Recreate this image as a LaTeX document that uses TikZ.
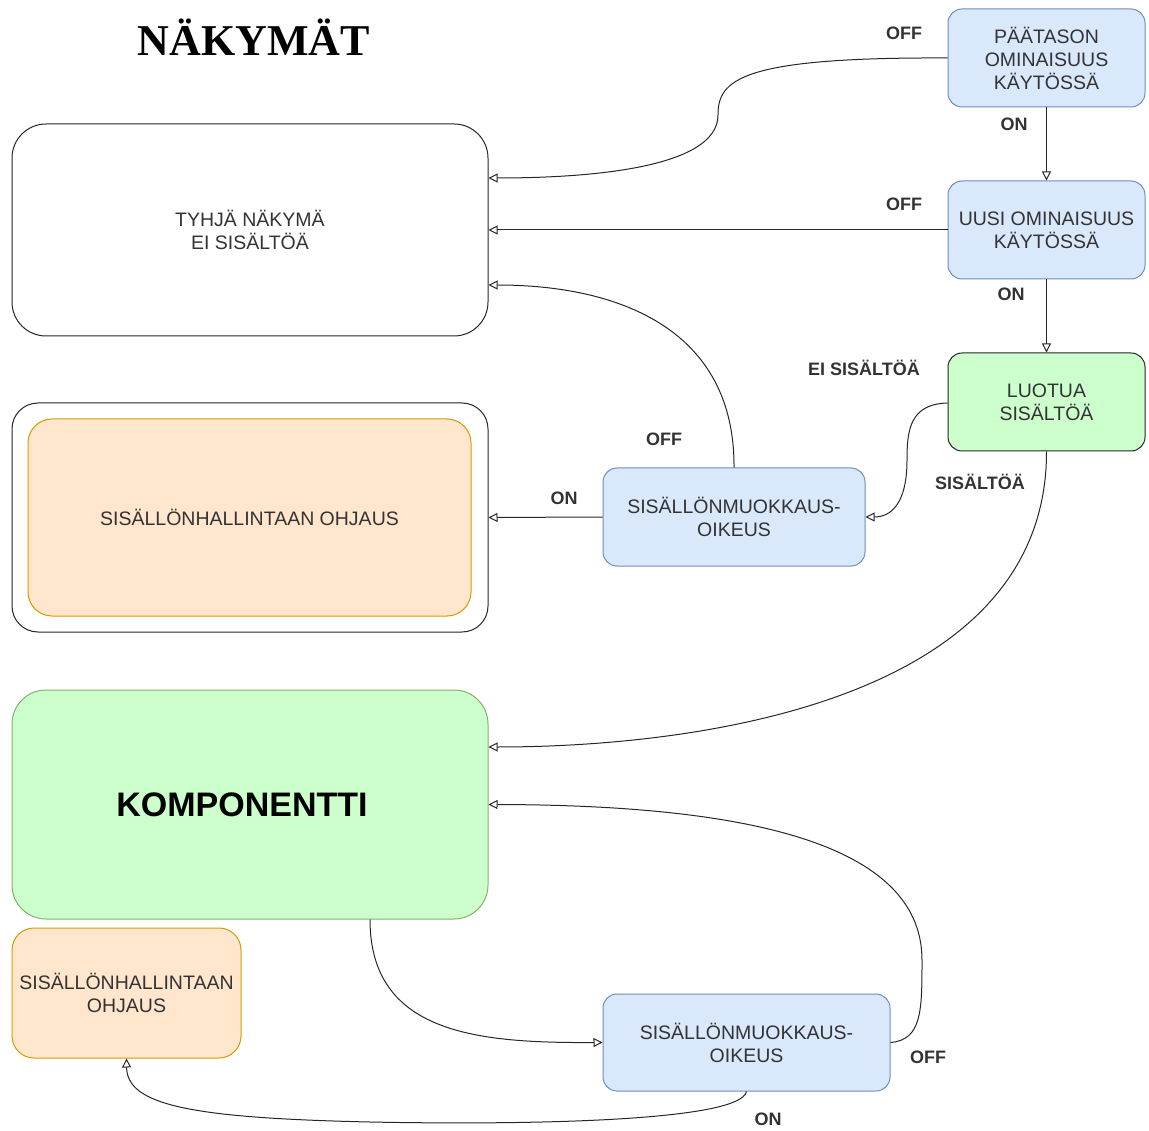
\documentclass[tikz,border=0pt]{standalone}
\usepackage{fontspec}
\setmainfont{Liberation Sans}
\newfontfamily\titlefont{Liberation Serif}
\usetikzlibrary{arrows.meta}
\definecolor{txt}{HTML}{333333}
\definecolor{bfill}{HTML}{DAE8FC}
\definecolor{bdraw}{HTML}{6C8EBF}
\definecolor{gfill}{HTML}{CCFFCC}
\definecolor{gdraw}{HTML}{82B366}
\definecolor{ofill}{HTML}{FFE6CC}
\definecolor{odraw}{HTML}{D79B00}
\tikzset{
  boxbase/.style={rectangle, inner sep=0pt, align=center, text=txt, line width=1pt,
    font=\fontsize{19.5}{23}\selectfont},
  bluebox/.style={boxbase, draw=bdraw, fill=bfill, rounded corners=14pt},
  greenbox/.style={boxbase, draw=black!85, fill=gfill, rounded corners=14pt},
  lbl/.style={font=\bfseries\fontsize{18}{20}\selectfont, text=txt, inner sep=0pt},
  conn/.style={line width=1pt, draw=black!85, -{Triangle[open,length=9pt,width=9pt]}},
}
\begin{document}
\begin{tikzpicture}[x=1pt,y=-1pt]
\useasboundingbox (0,0) rectangle (1149,1131);
\node[font=\titlefont\bfseries\fontsize{44}{48}\selectfont, inner sep=0pt] (title) at (254,37) {NÄKYMÄT};
% right column
\node[bluebox, minimum width=197pt, minimum height=98pt] (pt) at (1046.5,58) {PÄÄTASON\\OMINAISUUS\\KÄYTÖSSÄ};
\node[bluebox, minimum width=197pt, minimum height=98pt] (uo) at (1046.5,230) {UUSI OMINAISUUS\\KÄYTÖSSÄ};
\node[greenbox, minimum width=197pt, minimum height=98pt] (ls) at (1046.5,402) {LUOTUA\\SISÄLTÖÄ};
% left column
\node[boxbase, draw=black!85, fill=white, rounded corners=34pt, minimum width=476pt, minimum height=212pt] (ty) at (250,230) {TYHJÄ NÄKYMÄ\\EI SISÄLTÖÄ};
\node[boxbase, draw=black!85, fill=white, rounded corners=26pt, minimum width=476pt, minimum height=229pt] (outer) at (250,517.5) {};
\node[boxbase, draw=odraw, fill=ofill, rounded corners=24pt, minimum width=443pt, minimum height=197pt] (sh1) at (249.5,517.5) {SISÄLLÖNHALLINTAAN OHJAUS};
\node[bluebox, minimum width=262pt, minimum height=98pt] (sm1) at (734,517) {SISÄLLÖNMUOKKAUS-\\OIKEUS};
\node[boxbase, draw=gdraw, fill=gfill, rounded corners=34pt, minimum width=476pt, minimum height=229pt, text=black, font=\bfseries\fontsize{34}{38}\selectfont] (komp) at (250,804.5) {KOMPONENTTI\hspace*{16pt}};
\node[boxbase, draw=odraw, fill=ofill, rounded corners=22pt, minimum width=229pt, minimum height=130pt] (sh2) at (126.5,993) {SISÄLLÖNHALLINTAAN\\OHJAUS};
\node[bluebox, minimum width=287pt, minimum height=97pt] (sm2) at (746.5,1042.5) {SISÄLLÖNMUOKKAUS-\\OIKEUS};
% connectors
\draw[conn] (pt.west) .. controls (740,57) and (718,80) .. (718,115) .. controls (718,170) and (580,178) .. ([yshift=52pt]ty.east);
\draw[conn] (pt.south) -- (uo.north);
\draw[conn] (uo.west) -- (ty.east);
\draw[conn] (uo.south) -- (ls.north);
\draw[conn] ([yshift=-1pt]ls.west) .. controls (910,404) and (907,430) .. (907,460) .. controls (907,505) and (890,517) .. (sm1.east);
\draw[conn] (ls.south) .. controls (1047,700) and (700,747) .. ([yshift=57.5pt]komp.east);
\draw[conn] (sm1.north) .. controls (735,330) and (620,285) .. ([yshift=-55pt]ty.east);
\draw[conn] (sm1.west) -- (outer.east);
\draw[conn] ([xshift=120pt]komp.south) .. controls (370,1035) and (480,1043) .. (sm2.west);
\draw[conn] (sm2.east) .. controls (922,1040) and (922,1010) .. (922,960) .. controls (922,835) and (720,805) .. (komp.east);
\draw[conn] (sm2.south) .. controls (740,1122) and (520,1125) .. (370,1122) .. controls (190,1118) and (127,1105) .. (sh2.south);
% labels
\node[lbl] (l1) at (904,33) {OFF};
\node[lbl] (l2) at (1014,124) {ON};
\node[lbl] (l3) at (904,204) {OFF};
\node[lbl] (l4) at (1011,294) {ON};
\node[lbl] (l5) at (864,368) {EI SISÄLTÖÄ};
\node[lbl] (l6) at (980,482) {SISÄLTÖÄ};
\node[lbl] (l7) at (664,439) {OFF};
\node[lbl] (l8) at (564,498) {ON};
\node[lbl] (l9) at (928,1057) {OFF};
\node[lbl] (l10) at (768,1119) {ON};
\end{tikzpicture}
\end{document}
